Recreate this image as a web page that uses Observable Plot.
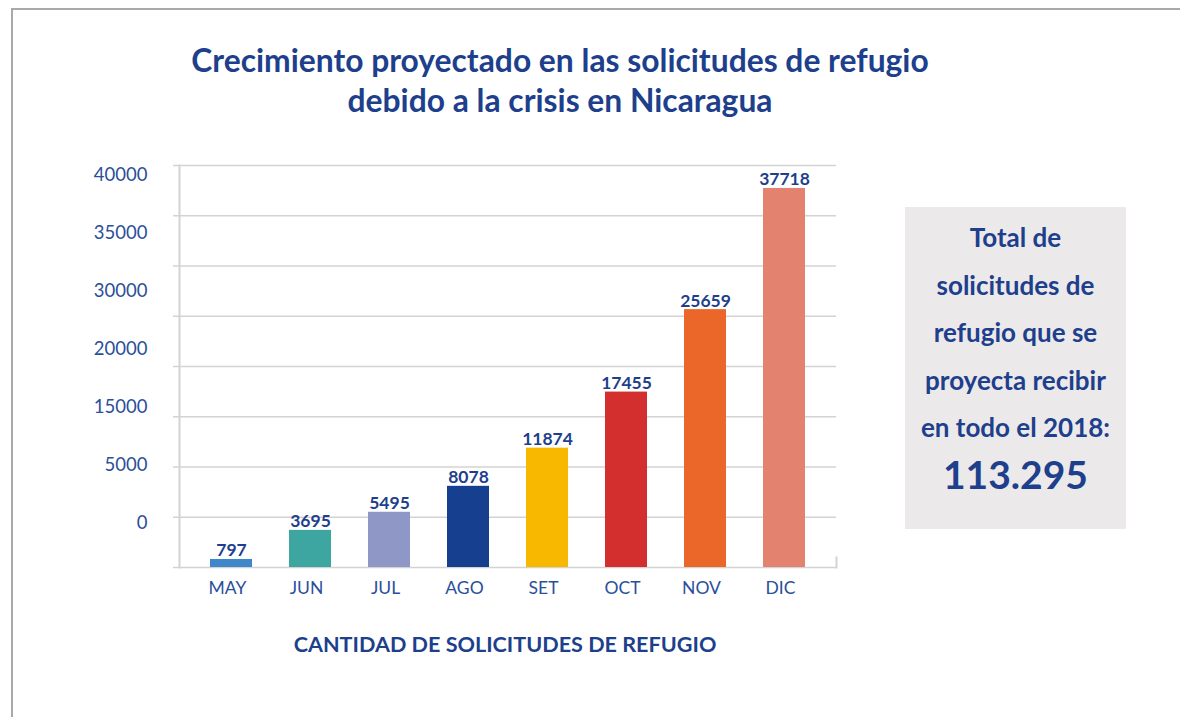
<!DOCTYPE html>
<html>
<head>
<meta charset="utf-8">
<script src="https://cdn.jsdelivr.net/npm/d3@7"></script>
<script src="https://cdn.jsdelivr.net/npm/@observablehq/plot@0.6"></script>
<style>
  html, body { margin: 0; padding: 0; background: #fff; }
  #wrap { position: relative; width: 1180px; height: 717px; overflow: hidden; font-family: Lato, "Open Sans", sans-serif; }
  #border { position: absolute; left: 11px; top: 8px; width: 1200px; height: 800px; border-left: 2px solid #a9a9a9; border-top: 2px solid #a9a9a9; box-sizing: border-box; }
  #title { position: absolute; left: 110px; width: 900px; top: 40px; text-align: center; color: #1d3f8c; font-weight: 700; font-size: 31.8px; line-height: 40px; }
  #chart { position: absolute; left: 0; top: 150px; }
  #ylabels { position: absolute; left: 0; top: 150px; }
  #xtitle { position: absolute; left: 205px; width: 600px; top: 631px; text-align: center; color: #1d3f8c; font-weight: 700; font-size: 21.6px; }
  #box { position: absolute; left: 905px; top: 207px; width: 221px; height: 322px; background: #ece9ea; color: #1d3f8c; font-weight: 700; text-align: center; }
  #box .t { font-size: 26px; line-height: 47.5px; padding-top: 7px; white-space: nowrap; }
  #box .n { font-size: 39px; line-height: 44px; }
</style>
</head>
<body>
<div id="wrap">
  <div id="border"></div>
  <div id="title">Crecimiento proyectado en las solicitudes de refugio<br>debido a la crisis en Nicaragua</div>
  <div id="chart"></div>
  <div id="ylabels"></div>
  <div id="xtitle">CANTIDAD DE SOLICITUDES DE REFUGIO</div>
  <div id="box"><div class="t">Total de<br>solicitudes de<br>refugio que se<br>proyecta recibir<br>en todo el 2018:</div><div class="n">113.295</div></div>
</div>
<script>
const months = ["MAY", "JUN", "JUL", "AGO", "SET", "OCT", "NOV", "DIC"];
const requests = [797, 3695, 5495, 8078, 11874, 17455, 25659, 37718];
const barColors = ["#3f87c9", "#3ea6a0", "#8f97c6", "#173f8f", "#f9b800", "#d32f2f", "#ea6629", "#e48270"];
const gridValues = [0, 5000, 10000, 15000, 20000, 25000, 30000, 35000, 40000];
const yTickLabels = ["40000", "35000", "30000", "20000", "15000", "5000", "0"];

const data = months.map((m, i) => ({month: m, value: requests[i], color: barColors[i]}));
const textBlue = "#1d3f8c";
const gridColor = "#d3d3d3";

const chart = Plot.plot({
  width: 1180,
  height: 470,
  marginLeft: 179,
  marginRight: 344,
  marginTop: 15,
  marginBottom: 53,
  style: {fontFamily: "Lato, 'Open Sans', sans-serif", background: "transparent"},
  x: {type: "band", domain: months, paddingInner: 0.47, paddingOuter: 0.37, label: null},
  y: {domain: [0, 40000], label: null, axis: null},
  marks: [
    Plot.ruleY(gridValues, {stroke: gridColor, strokeWidth: 1.5, insetLeft: -6}),
    Plot.frame({anchor: "left", stroke: gridColor, strokeWidth: 2}),
    Plot.frame({anchor: "right", stroke: gridColor, strokeWidth: 2, insetTop: 392}),
    Plot.barY(data, {x: "month", y: "value", fill: "color"}),
    Plot.text(data, {x: "month", y: "value", text: d => String(d.value), lineAnchor: "bottom", dy: -3, fill: textBlue, fontWeight: 700, fontSize: 17.5}),
    Plot.axisX({tickSize: 0, tickPadding: 14, dx: -4, fontSize: 17.5, fill: "#2b4f9a", label: null})
  ]
});
document.getElementById("chart").appendChild(chart);

const ylab = Plot.plot({
  width: 150,
  height: 400,
  marginLeft: 0,
  marginRight: 3,
  marginTop: 0,
  marginBottom: 0,
  style: {fontFamily: "Lato, 'Open Sans', sans-serif", background: "transparent"},
  y: {type: "point", domain: yTickLabels, range: [23.5, 375], padding: 0, axis: null},
  marks: [
    Plot.text(yTickLabels, {y: d => d, text: d => d, frameAnchor: "right", textAnchor: "end", fill: "#2b4f9a", fontSize: 18.5})
  ]
});
document.getElementById("ylabels").appendChild(ylab);
</script>
</body>
</html>
